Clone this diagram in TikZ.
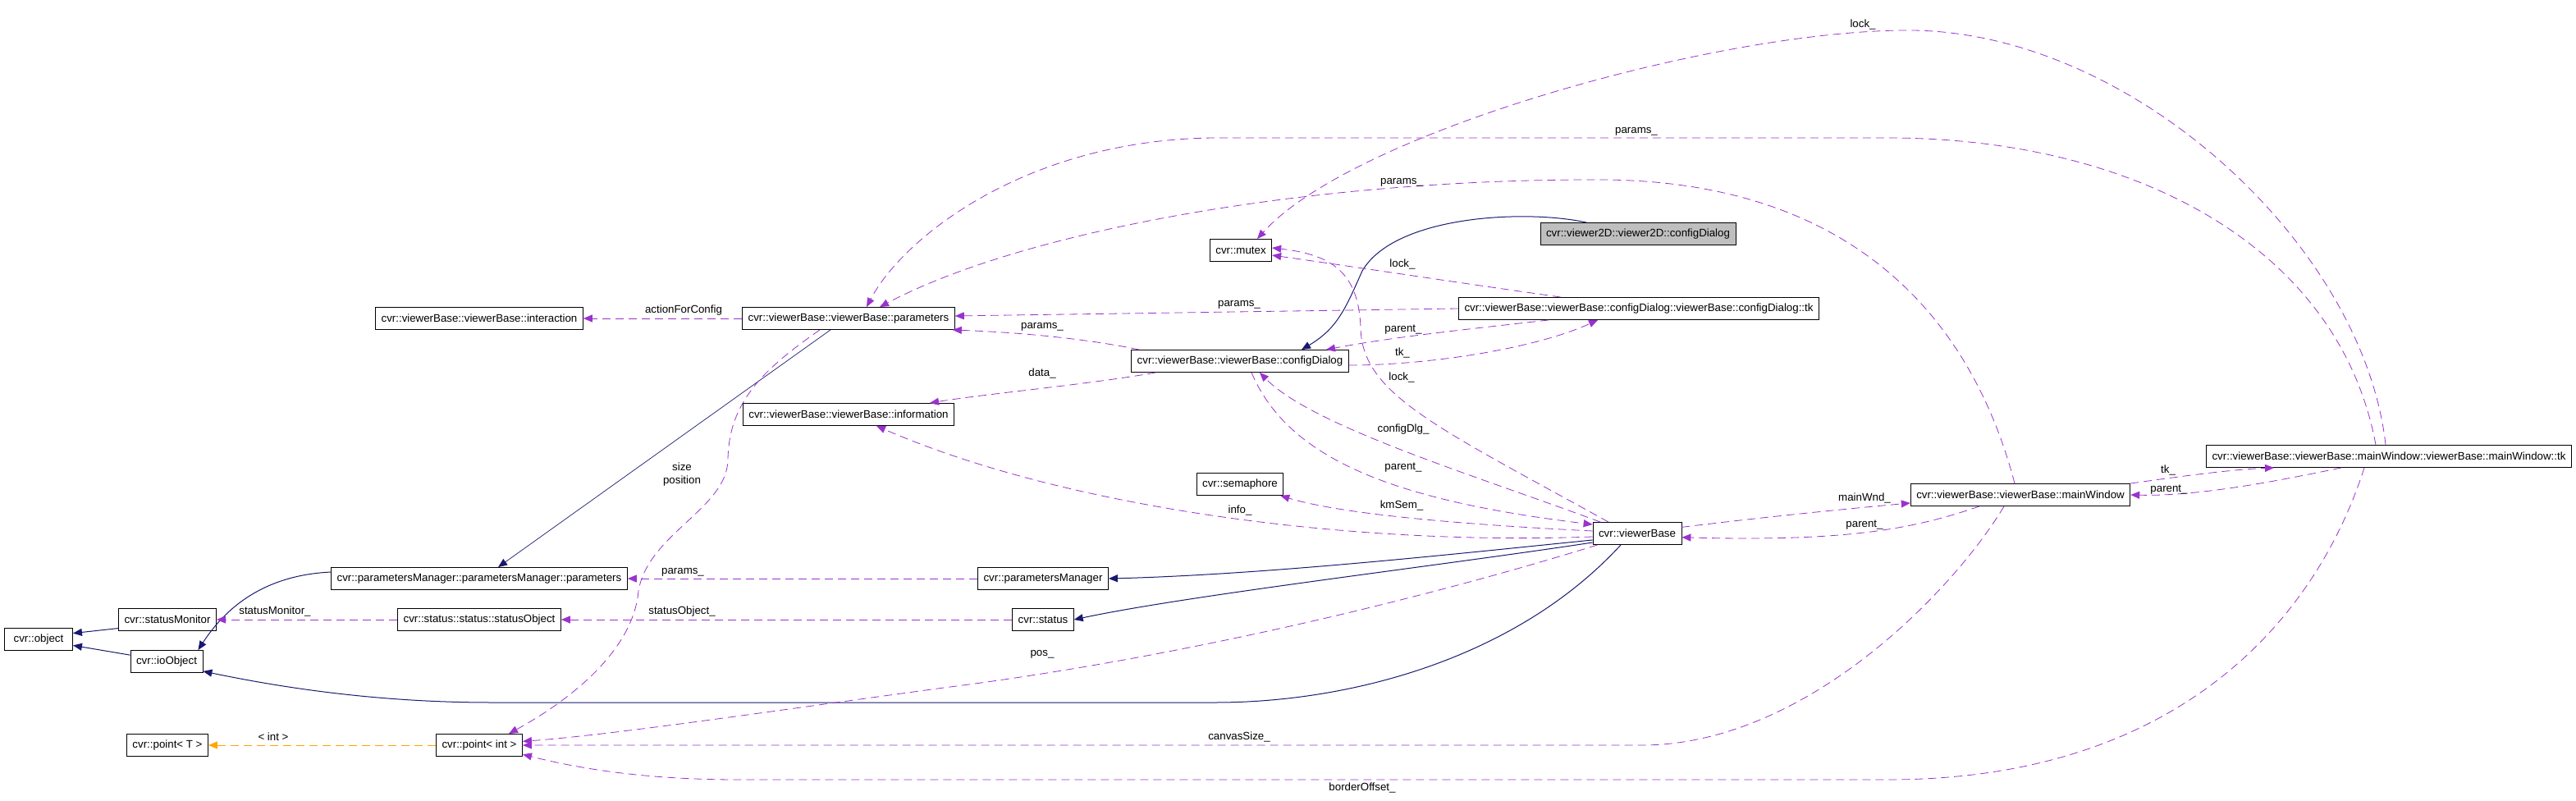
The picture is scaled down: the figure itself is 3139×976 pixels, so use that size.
\documentclass[tikz,border=0pt]{standalone}
\usepackage{fontspec}
\setmainfont{Liberation Sans}
\usetikzlibrary{arrows.meta}

\definecolor{inhblue}{HTML}{191970}
\definecolor{usepurple}{HTML}{9A32CD}
\definecolor{tmplorange}{HTML}{FFA500}
\definecolor{curgray}{HTML}{BFBFBF}
\newcommand{\dxfont}{\fontsize{13.3}{16}\selectfont}

\begin{document}
\begin{tikzpicture}[x=1pt, y=-1pt,
    cls/.style={draw=black, line width=0.9pt, fill=white, font=\dxfont, minimum height=27pt, inner xsep=7pt, inner ysep=2pt},
    cur/.style={cls, fill=curgray},
    lbl/.style={font=\dxfont, inner sep=0pt},
    inh/.style={draw=inhblue, line width=1pt, -{Triangle[length=11pt,width=9pt]}},
    use/.style={draw=usepurple, line width=0.8pt, dash pattern=on 10pt off 6pt, -{Triangle[length=11pt,width=9pt]}},
    tmpl/.style={use, draw=tmplorange}]
    \useasboundingbox (0,0) rectangle (3139,976);

    % Classes (left part)
    \node[cls, minimum width=83pt] (object) at (47,779) {cvr::object};
    \node[cls] (statusMonitor) at (204,755) {cvr::statusMonitor};
    \node[cls] (ioObject) at (203,806) {cvr::ioObject};
    \node[cls] (pointT) at (204,908) {cvr::point< T >};
    \node[cls] (pointInt) at (584,908) {cvr::point< int >};
    \node[cls] (statusObject) at (584,755) {cvr::status::status::statusObject};
    \node[cls] (pmParams) at (584,705) {cvr::parametersManager::parametersManager::parameters};
    \node[cls] (interaction) at (584,388) {cvr::viewerBase::viewerBase::interaction};
    \node[cls] (vbParams) at (1034,388) {cvr::viewerBase::viewerBase::parameters};
    \node[cls] (information) at (1034,505) {cvr::viewerBase::viewerBase::information};

    % Classes (middle and right part)
    \node[cls] (mutex) at (1512,305) {cvr::mutex};
    \node[cur] (v2dConfig) at (1996,285) {cvr::viewer2D::viewer2D::configDialog};
    \node[cls] (cfgTk) at (1997,376) {cvr::viewerBase::viewerBase::configDialog::viewerBase::configDialog::tk};
    \node[cls] (vbConfig) at (1511,440) {cvr::viewerBase::viewerBase::configDialog};
    \node[cls] (semaphore) at (1511,590) {cvr::semaphore};
    \node[cls] (viewerBase) at (1995,650) {cvr::viewerBase};
    \node[cls] (paramsManager) at (1271,705) {cvr::parametersManager};
    \node[cls] (status) at (1271,755) {cvr::status};
    \node[cls] (mainWindow) at (2462,603) {cvr::viewerBase::viewerBase::mainWindow};
    \node[cls] (mwTk) at (2911,556) {cvr::viewerBase::viewerBase::mainWindow::viewerBase::mainWindow::tk};

    % Inheritance
    \draw[inh] (statusMonitor.190) -- (object.10);
    \draw[inh] (ioObject.170) -- (object.-10);
    \draw[inh] ([yshift=8pt]pmParams.west) .. controls (340,700) and (285,725) .. ([xshift=-6pt]ioObject.north east);
    \draw[inh, line width=0.7pt] ([xshift=-22pt]vbParams.south) -- ([xshift=23pt]pmParams.north);
    \draw[inh] ([yshift=-8pt]viewerBase.west) .. controls (1800,672) and (1550,700) .. (paramsManager.east);
    \draw[inh] ([yshift=-11pt]viewerBase.west) .. controls (1750,690) and (1450,725) .. (status.east);
    \draw[inh] ([xshift=-20pt]viewerBase.south) .. controls (1850,800) and (1650,856) .. (1480,856) -- (600,856) .. controls (450,856) and (330,835) .. (ioObject.-15);
    \draw[inh] ([xshift=-63pt]v2dConfig.north) .. controls (1860,255) and (1700,262) .. (1660,330) .. controls (1640,375) and (1630,400) .. ([xshift=75pt]vbConfig.north);

    % Usage (left part)
    \draw[use] (statusObject.west) -- (statusMonitor.east);
    \draw[use] (status.west) -- (statusObject.east);
    \draw[use] (paramsManager.west) -- (pmParams.east);
    \draw[tmpl] (pointInt.west) -- (pointT.east);
    \draw[use] (vbParams.west) -- (interaction.east);
    \draw[use] ([xshift=-35pt]vbParams.south) .. controls (930,450) and (888,490) .. (887,560) .. controls (886,620) and (790,650) .. (778,720) .. controls (772,790) and (700,850) .. ([xshift=36pt]pointInt.north);
    \draw[use] ([xshift=6pt]viewerBase.south west) .. controls (1750,725) and (1450,800) .. (1150,838) .. controls (950,865) and (750,895) .. (pointInt.5);
    \draw[use] ([xshift=-20pt]mainWindow.south) .. controls (2380,720) and (2200,908) .. (2000,908) -- (pointInt.east);
    \draw[use] ([xshift=-30pt]mwTk.south) .. controls (2820,760) and (2650,950) .. (2300,950) -- (900,950) .. controls (780,950) and (700,935) .. (pointInt.-12);

    % Usage (right part)
    \draw[use] (viewerBase.8) .. controls (2150,630) and (2250,620) .. ([yshift=4pt]mainWindow.south west);
    \draw[use] ([xshift=-50pt]mainWindow.south) .. controls (2330,645) and (2250,660) .. (viewerBase.-5);
    \draw[use] (mainWindow.north east) .. controls (2660,580) and (2720,572) .. ([xshift=-140pt]mwTk.south);
    \draw[use] ([xshift=-58pt]mwTk.south) .. controls (2780,585) and (2680,605) .. (mainWindow.east);
    \draw[use] ([xshift=-4pt]mwTk.north) .. controls (2880,300) and (2600,40) .. (2330,37) .. controls (2100,35) and (1650,160) .. ([xshift=20pt]mutex.north);
    \draw[use] ([xshift=-16pt]mwTk.north) .. controls (2850,300) and (2600,168) .. (2300,168) -- (1480,168) .. controls (1250,170) and (1100,290) .. ([xshift=22pt]vbParams.north);
    \draw[use] ([xshift=-7pt]mainWindow.north) .. controls (2400,380) and (2250,220) .. (1950,219) .. controls (1600,218) and (1250,280) .. ([xshift=38pt]vbParams.north);

    % Usage (middle part)
    \draw[use] (cfgTk.west) -- ([yshift=3pt]vbParams.east);
    \draw[use] ([xshift=10pt]vbConfig.north west) .. controls (1320,412) and (1240,405) .. ([xshift=-3pt]vbParams.south east);
    \draw[use] ([xshift=30pt]vbConfig.south west) .. controls (1330,468) and (1200,480) .. ([xshift=-30pt]information.north east);
    \draw[use] ([yshift=-4pt]viewerBase.west) .. controls (1650,665) and (1300,620) .. ([xshift=34pt]information.south);
    \draw[use] ([yshift=3pt]viewerBase.west) .. controls (1800,640) and (1640,628) .. ([xshift=-4pt]semaphore.south east);
    \draw[use] ([xshift=-45pt]viewerBase.north) .. controls (1800,580) and (1600,520) .. ([xshift=24pt]vbConfig.south);
    \draw[use] ([xshift=14pt]vbConfig.south) .. controls (1570,560) and (1700,610) .. ([yshift=-3pt]viewerBase.north west);
    \draw[use] ([xshift=-35pt]viewerBase.north) .. controls (1750,520) and (1660,480) .. (1658,400) .. controls (1656,330) and (1620,310) .. ([yshift=3pt]mutex.east);
    \draw[use] ([xshift=-95pt]cfgTk.north) .. controls (1780,345) and (1650,325) .. ([yshift=-6pt]mutex.east);
    \draw[use] ([xshift=-110pt]cfgTk.south) .. controls (1800,400) and (1700,410) .. ([xshift=105pt]vbConfig.north);
    \draw[use] ([yshift=-5pt]vbConfig.east) .. controls (1740,445) and (1870,425) .. ([xshift=-50pt]cfgTk.south);

    % Edge labels
    \node[lbl] (lStatusMonitor) at (335,745) {statusMonitor\_};
    \node[lbl] (lStatusObject) at (831,745) {statusObject\_};
    \node[lbl] (lPmParams) at (832,697) {params\_};
    \node[lbl] (lInt) at (333,898) {< int >};
    \node[lbl] (lAction) at (833,378) {actionForConfig};
    \node[lbl, align=center] (lSizePos) at (831,578) {size\\position};
    \node[lbl] (lPos) at (1270,797) {pos\_};
    \node[lbl] (lCanvas) at (1510,898) {canvasSize\_};
    \node[lbl] (lBorder) at (1660,960) {borderOffset\_};
    \node[lbl] (lMainWnd) at (2272,607) {mainWnd\_};
    \node[lbl] (lParentMw) at (2272,640) {parent\_};
    \node[lbl] (lTkMw) at (2642,573) {tk\_};
    \node[lbl] (lParentTk) at (2643,597) {parent\_};
    \node[lbl] (lLockTop) at (2270,30) {lock\_};
    \node[lbl] (lParamsTop) at (1994,160) {params\_};
    \node[lbl] (lParamsMw) at (1708,222) {params\_};
    \node[lbl] (lParamsTk) at (1510,371) {params\_};
    \node[lbl] (lParamsCfg) at (1270,398) {params\_};
    \node[lbl] (lData) at (1270,455) {data\_};
    \node[lbl] (lInfo) at (1511,622) {info\_};
    \node[lbl] (lKmSem) at (1708,616) {kmSem\_};
    \node[lbl] (lConfigDlg) at (1710,523) {configDlg\_};
    \node[lbl] (lParentCfg) at (1710,570) {parent\_};
    \node[lbl] (lLockVb) at (1708,460) {lock\_};
    \node[lbl] (lLockTk) at (1709,322) {lock\_};
    \node[lbl] (lParentTk2) at (1710,402) {parent\_};
    \node[lbl] (lTkCfg) at (1709,430) {tk\_};
\end{tikzpicture}
\end{document}
